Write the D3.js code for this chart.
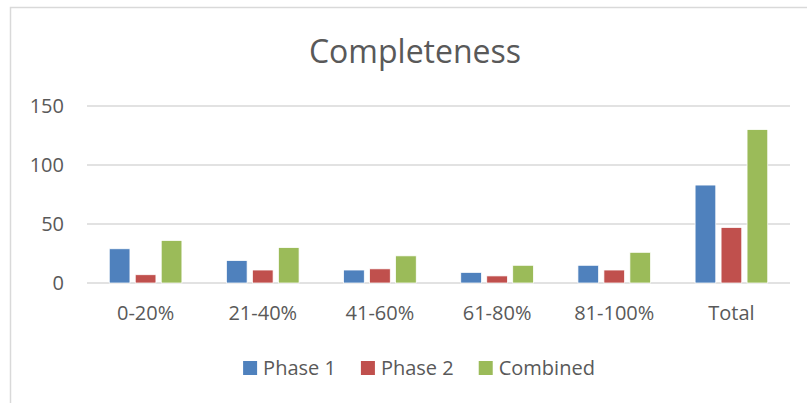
<!DOCTYPE html>
<html>
<head>
<meta charset="utf-8">
<script src="https://cdn.jsdelivr.net/npm/d3@7"></script>
<style>
  body { margin: 0; background: #fff; }
  text { font-family: "Open Sans", sans-serif; fill: #595959; }
</style>
</head>
<body>
<div id="chart"></div>
<script>
// data
const categories = ["0-20%", "21-40%", "41-60%", "61-80%", "81-100%", "Total"];
const series = ["Phase 1", "Phase 2", "Combined"];
const phase1 = [29, 19, 11, 9, 15, 83];
const phase2 = [7, 11, 12, 6, 11, 47];
const combined = [36, 30, 23, 15, 26, 130];
const yTicks = [0, 50, 100, 150];
const colors = ["#4F81BD", "#C0504D", "#9BBB59"];

const values = [phase1, phase2, combined];

const width = 807, height = 403;
const svg = d3.select("#chart").append("svg")
    .attr("width", width)
    .attr("height", height);

// chart border (only top and left visible in the crop)
svg.append("path")
    .attr("d", "M10.5,403 V7.5 H807")
    .attr("fill", "none")
    .attr("stroke", "#d9d9d9")
    .attr("stroke-width", 1.5);

// title
svg.append("text")
    .attr("x", 415)
    .attr("y", 63)
    .attr("text-anchor", "middle")
    .style("font-size", "32px")
    .text("Completeness");

const x = d3.scaleBand()
    .domain(categories)
    .range([87, 790]);

const groupW = x.step() * 0.62;
const x1 = d3.scaleBand()
    .domain(series)
    .range([0, groupW])
    .paddingInner(0.204);

const y = d3.scaleLinear()
    .domain([0, 150])
    .range([283, 106]);

// gridlines
svg.append("g")
  .selectAll("line")
  .data(yTicks)
  .join("line")
    .attr("x1", 87)
    .attr("x2", 790)
    .attr("y1", d => y(d))
    .attr("y2", d => y(d))
    .attr("stroke", "#d9d9d9")
    .attr("stroke-width", 1.5);

// y labels
const yAxis = svg.append("g")
    .attr("transform", "translate(87,0)")
    .call(d3.axisLeft(y).tickValues(yTicks).tickSize(0).tickPadding(23));
yAxis.select(".domain").remove();
yAxis.selectAll("text")
    .style("font-size", "20px")
    .style("font-family", "Open Sans, sans-serif")
    .attr("fill", "#595959");

// x labels
const xAxis = svg.append("g")
    .attr("transform", "translate(0,283)")
    .call(d3.axisBottom(x).tickSize(0).tickPadding(23));
xAxis.select(".domain").remove();
xAxis.selectAll("text")
    .style("font-size", "20px")
    .style("font-family", "Open Sans, sans-serif")
    .attr("fill", "#595959");

// bars
const groups = svg.append("g")
  .selectAll("g")
  .data(categories)
  .join("g")
    .attr("transform", d => `translate(${x(d) + (x.step() - groupW) / 2},0)`);

groups.selectAll("rect")
  .data((d, i) => series.map((s, j) => ({ s, v: values[j][i], c: colors[j] })))
  .join("rect")
    .attr("x", d => x1(d.s))
    .attr("y", d => y(d.v))
    .attr("width", x1.bandwidth())
    .attr("height", d => y(0) - y(d.v))
    .attr("fill", d => d.c)
    .attr("stroke", "#fff")
    .attr("stroke-width", 0.75);

// legend, centred under the plot
const legend = svg.append("g");
const items = legend.selectAll("g")
  .data(series)
  .join("g");
items.append("rect")
    .attr("width", 14)
    .attr("height", 14)
    .attr("y", 361)
    .attr("fill", (d, i) => colors[i]);
items.append("text")
    .attr("x", 20)
    .attr("y", 375)
    .style("font-size", "20px")
    .text(d => d);

let widths = [];
items.each(function() { widths.push(20 + this.querySelector("text").getComputedTextLength()); });
const gap = 25;
const total = d3.sum(widths) + gap * (widths.length - 1);
let cx = 419 - total / 2;
items.each(function(d, i) {
  d3.select(this).attr("transform", `translate(${cx},0)`);
  cx += widths[i] + gap;
});
</script>
</body>
</html>
